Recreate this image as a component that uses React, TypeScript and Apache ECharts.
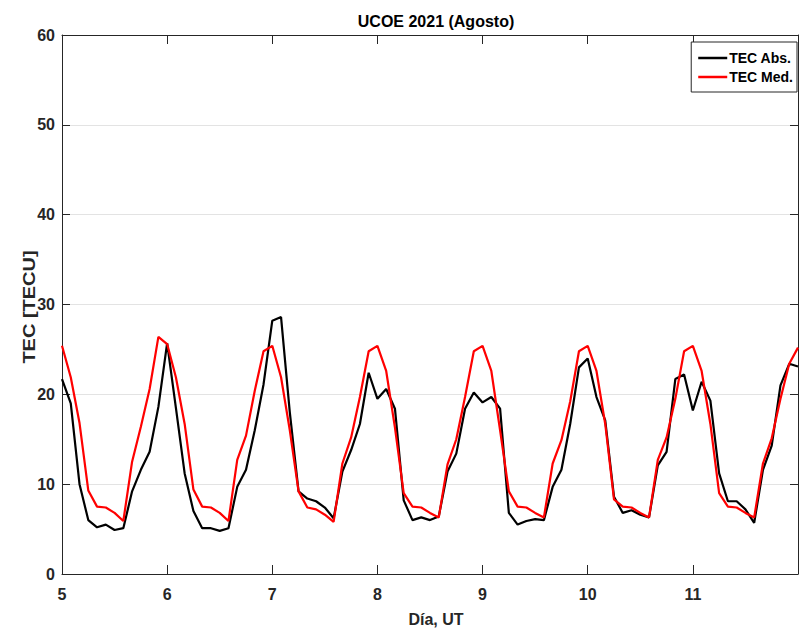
import React, { useEffect, useRef } from "react";
import * as echarts from "echarts";

// Day starts (x-axis, días de agosto 2021) and sample hours (UT, every 2 h)
const days = [5, 6, 7, 8, 9, 10, 11];
const sampleHours = [0, 2, 4, 6, 8, 10, 12, 14, 16, 18, 20, 22];
const endDay = 12;

// TEC Abs. (TECU) per day, 2-hour samples
const abs5 = [21.7, 19.0, 10.0, 6.0, 5.2, 5.5, 4.9, 5.1, 9.2, 11.6, 13.6, 18.6];
const abs6 = [25.7, 18.5, 11.2, 7.0, 5.1, 5.1, 4.8, 5.1, 9.7, 11.6, 16.0, 21.1];
const abs7 = [28.2, 28.6, 18.0, 9.2, 8.4, 8.1, 7.4, 6.2, 11.4, 13.8, 16.7, 22.4];
const abs8 = [19.5, 20.6, 18.4, 8.2, 6.0, 6.3, 6.0, 6.4, 11.4, 13.4, 18.4, 20.2];
const abs9 = [19.1, 19.7, 18.4, 6.8, 5.5, 5.9, 6.1, 6.0, 9.7, 11.6, 16.7, 23.0];
const abs10 = [24.0, 19.7, 17.1, 8.6, 6.8, 7.1, 6.6, 6.3, 12.1, 13.6, 21.7, 22.2];
const abs11 = [18.2, 21.4, 19.3, 11.2, 8.1, 8.1, 7.2, 5.7, 11.6, 14.3, 21.0, 23.4];
const absEnd = 23.1;

// TEC Med. (TECU) per day, 2-hour samples
const med5 = [25.4, 21.9, 16.8, 9.3, 7.5, 7.4, 6.8, 5.9, 12.5, 16.4, 20.6, 26.4];
const med6 = [25.6, 21.9, 16.7, 9.4, 7.5, 7.4, 6.8, 5.9, 12.7, 15.4, 20.4, 24.8];
const med7 = [25.4, 21.9, 16.0, 9.2, 7.4, 7.2, 6.6, 5.8, 12.3, 15.2, 19.7, 24.8];
const med8 = [25.4, 22.6, 16.3, 9.0, 7.5, 7.4, 6.8, 6.3, 12.2, 15.0, 19.7, 24.8];
const med9 = [25.4, 22.6, 16.0, 9.2, 7.5, 7.4, 6.8, 6.3, 12.3, 14.9, 19.2, 24.8];
const med10 = [25.4, 22.6, 16.7, 8.3, 7.5, 7.4, 6.8, 6.3, 12.7, 15.2, 19.5, 24.8];
const med11 = [25.4, 22.6, 16.7, 9.0, 7.5, 7.4, 6.8, 6.3, 12.3, 15.1, 19.5, 23.4];
const medEnd = 25.2;

const yTicks = [0, 10, 20, 30, 40, 50, 60];
const xTicks = [5, 6, 7, 8, 9, 10, 11];

const absByDay = [abs5, abs6, abs7, abs8, abs9, abs10, abs11];
const medByDay = [med5, med6, med7, med8, med9, med10, med11];

function buildSeries(byDay: number[][], last: number): [number, number][] {
  const out: [number, number][] = [];
  days.forEach((d, i) => {
    sampleHours.forEach((h, k) => {
      out.push([d + h / 24, byDay[i][k]]);
    });
  });
  out.push([endDay, last]);
  return out;
}

const FONT = "'Liberation Sans', Arial, Helvetica, sans-serif";
const AX = "#262626";

export default function App() {
  const ref = useRef<HTMLDivElement>(null);
  useEffect(() => {
    if (!ref.current) return;
    const chart = echarts.init(ref.current, null, { renderer: "svg" });
    const absData = buildSeries(absByDay, absEnd);
    const medData = buildSeries(medByDay, medEnd);
    const xCommon = {
      type: "value" as const,
      min: xTicks[0],
      max: endDay,
      interval: 1,
      splitLine: { show: false },
      axisLine: { show: true, onZero: false, lineStyle: { color: AX, width: 1 } },
      axisTick: { show: true, inside: true, length: 9, lineStyle: { color: AX, width: 1 } },
    };
    const yCommon = {
      type: "value" as const,
      min: yTicks[0],
      max: yTicks[yTicks.length - 1],
      interval: 10,
      axisLine: { show: true, lineStyle: { color: AX, width: 1 } },
      axisTick: { show: true, inside: true, length: 8, lineStyle: { color: AX, width: 1 } },
    };
    chart.setOption({
      animation: false,
      backgroundColor: "#ffffff",
      title: {
        text: "UCOE 2021 (Agosto)",
        left: 431,
        top: 8,
        textAlign: "center",
        textStyle: { fontFamily: FONT, fontWeight: "bold", fontSize: 16, color: "#000" },
      },
      grid: { left: 62, right: 1, top: 35, bottom: 54, containLabel: false },
      legend: {
        data: [
          { name: "TEC Abs.", icon: "rect" },
          { name: "TEC Med.", icon: "rect" },
        ],
        orient: "vertical",
        right: 2,
        top: 42,
        itemWidth: 29,
        itemHeight: 2.5,
        itemGap: 5,
        padding: [9, 4, 8, 7],
        backgroundColor: "#ffffff",
        borderColor: AX,
        borderWidth: 1,
        borderRadius: 0,
        textStyle: {
          fontFamily: FONT,
          fontWeight: "bold",
          fontSize: 14,
          lineHeight: 14,
          color: "#000",
          padding: [0, 0, 0, -3],
        },
      },
      xAxis: [
        {
          ...xCommon,
          position: "bottom",
          name: "Día, UT",
          nameLocation: "middle",
          nameGap: 37,
          nameTextStyle: {
            fontFamily: FONT,
            fontWeight: "bold",
            fontSize: 16,
            color: "#262626",
            padding: [0, 0, 0, 12],
          },
          axisLabel: {
            show: true,
            margin: 12,
            showMaxLabel: false,
            fontFamily: FONT,
            fontWeight: "bold",
            fontSize: 16,
            color: "#262626",
            formatter: (v: number) => (v >= endDay ? "" : String(v)),
          },
        },
        {
          ...xCommon,
          position: "top",
          axisLabel: { show: false },
        },
      ],
      yAxis: [
        {
          ...yCommon,
          position: "left",
          splitLine: { show: true, lineStyle: { color: "#e3e3e3", width: 1 } },
          axisLabel: {
            show: true,
            margin: 7,
            fontFamily: FONT,
            fontWeight: "bold",
            fontSize: 16,
            color: "#262626",
            verticalAlign: "middle",
          },
        },
        {
          ...yCommon,
          position: "right",
          splitLine: { show: false },
          axisLabel: { show: false },
        },
      ],
      graphic: [
        {
          type: "text",
          x: 29,
          y: 307,
          rotation: Math.PI / 2,
          scaleY: 0.85,
          style: {
            text: "TEC [TECU]",
            font: "bold 20px 'Liberation Sans', Arial, sans-serif",
            fill: "#262626",
            align: "center",
            verticalAlign: "middle",
          },
        },
      ],
      series: [
        {
          name: "TEC Abs.",
          type: "line",
          data: absData,
          showSymbol: false,
          symbol: "none",
          lineStyle: { color: "#000000", width: 2.2 },
          itemStyle: { color: "#000000" },
          z: 3,
        },
        {
          name: "TEC Med.",
          type: "line",
          data: medData,
          showSymbol: false,
          symbol: "none",
          lineStyle: { color: "#ff0000", width: 2.2 },
          itemStyle: { color: "#ff0000" },
          z: 4,
        },
      ],
    });
    return () => chart.dispose();
  }, []);
  return (
    <div
      ref={ref}
      style={{ position: "fixed", left: 0, top: 0, width: 799, height: 632 }}
    />
  );
}
